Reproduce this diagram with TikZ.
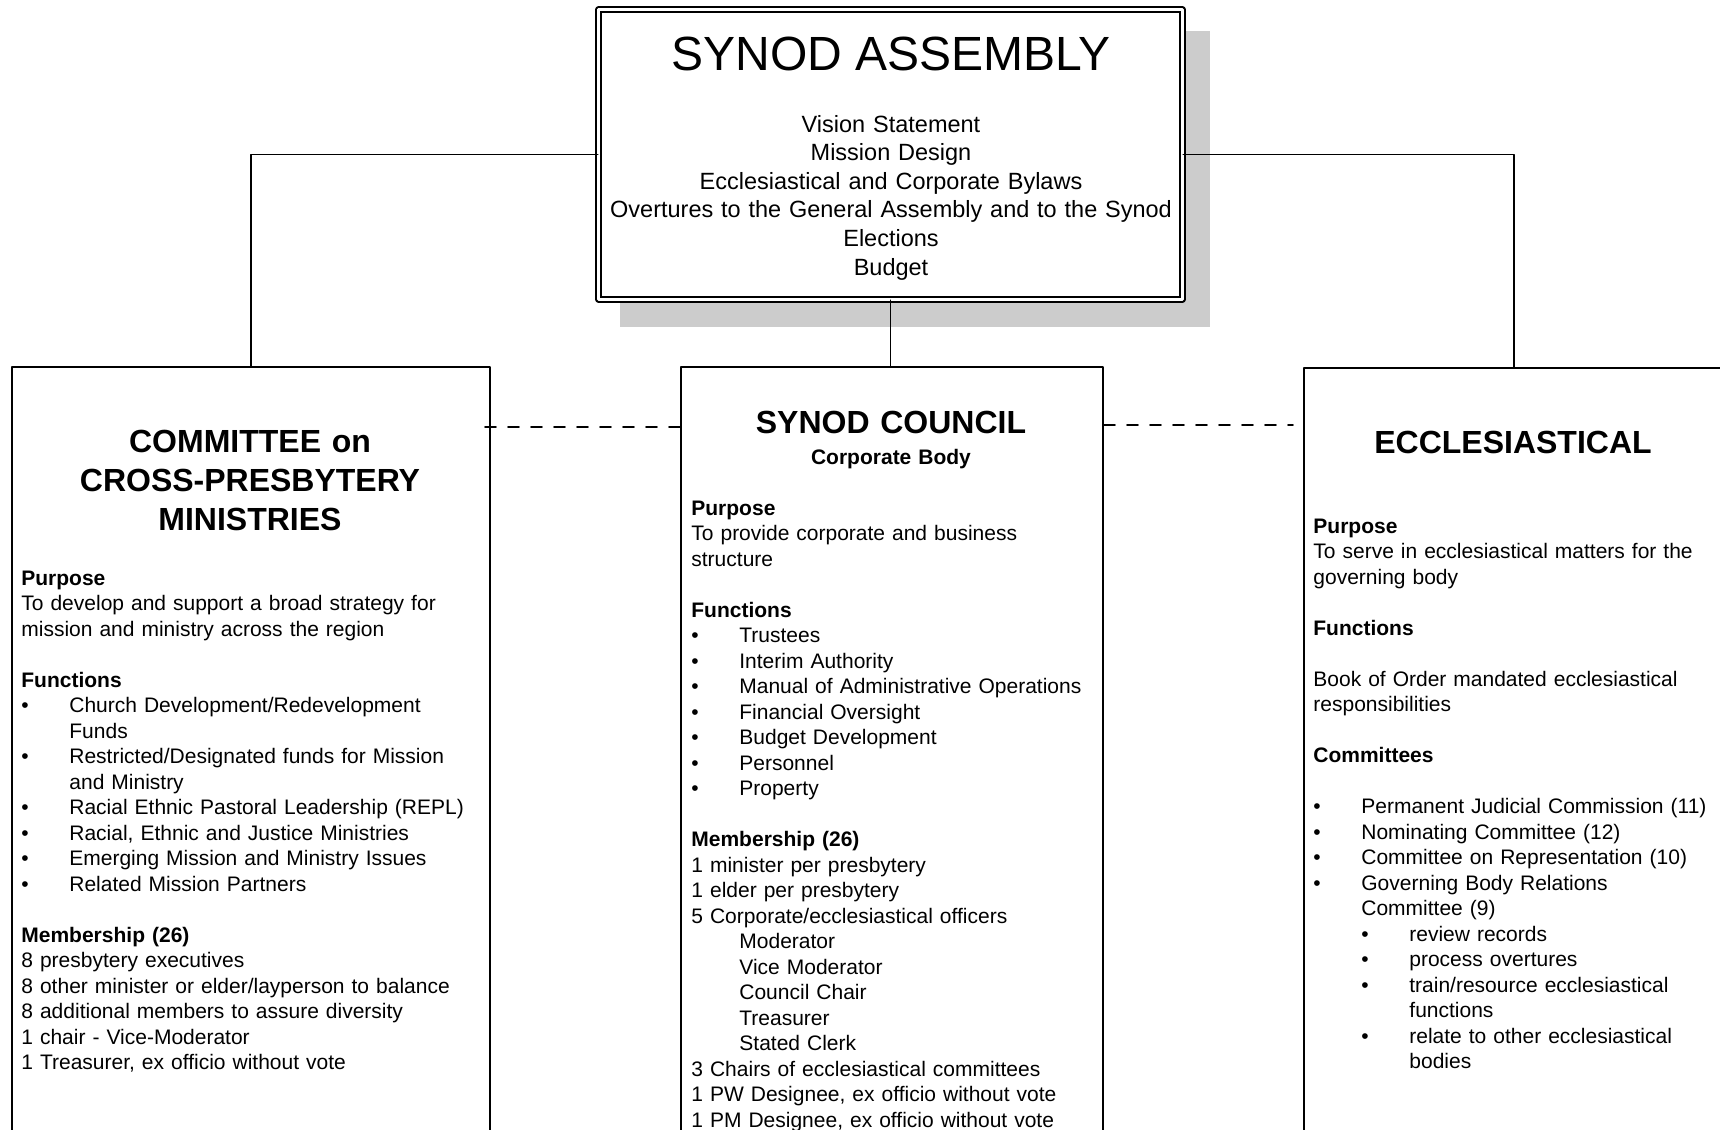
\documentclass[tikz,border=0pt]{standalone}
\usepackage{fontspec}
\setmainfont{Liberation Sans}
\usetikzlibrary{calc}
\newcommand\bul{\makebox[24pt][l]{\textbullet}}
\newcommand\ind{\hspace*{24pt}}

\begin{document}
\begin{tikzpicture}[line cap=round,line join=round,x=0.5pt,y=-0.5pt,
    unit/.style={draw,line width=1pt,inner sep=0pt,anchor=north west},
    body/.style={anchor=base west,inner sep=0pt,text width=250pt,align=left,font=\fontsize{10.5}{12.75}\selectfont},
    head/.style={anchor=base,inner sep=0pt,text width=250pt,align=center,font=\fontsize{16}{19.5}\selectfont\bfseries},
    link/.style={line width=0.8pt},
    dashlink/.style={line width=0.9pt,dash pattern=on 5.5pt off 6pt}]
    \useasboundingbox (0,0) rectangle (1720,1130);
    \clip (0,0) rectangle (1720,1130);
    % assembly with its shadow
    \fill [black!20] (620,31) rectangle (1210,327);
    \node [draw,double,line width=0.75pt,double distance=1.75pt,fill=white,minimum width=292pt,minimum height=145pt,inner sep=0pt] (asm) at (890.5,154.5) {};
    \node [anchor=base,inner sep=0pt,font=\fontsize{24}{28}\selectfont] (asmtitle) at (891,70) {SYNOD ASSEMBLY};
    \node [anchor=base,inner sep=0pt,text width=290pt,align=center,font=\fontsize{11.75}{14.3}\selectfont] (asmlist) at (891,132) {Vision Statement\\Mission Design\\Ecclesiastical and Corporate Bylaws\\Overtures to the General Assembly and to the Synod\\Elections\\Budget};
    % the three bodies
    \node [unit,minimum width=239pt,minimum height=400pt] (cpm) at (11,366) {};
    \node [unit,minimum width=211pt,minimum height=400pt] (council) at (680,366) {};
    \node [unit,minimum width=210pt,minimum height=400pt] (eccl) at (1303,367) {};
    \draw [link] (asm.west) -| (cpm.north);
    \draw [link] (asm.east) -| (eccl.north);
    \draw [link] (asm.south) -- (asm.south |- council.north);
    \coordinate (dl) at (0,427);
    \coordinate (dr) at (0,425);
    \draw [dashlink] ([xshift=-3pt]cpm.east |- dl) -- (council.west |- dl);
    \draw [dashlink] (council.east |- dr) -- ([xshift=-5pt]eccl.west |- dr);
    % committee on cross-presbytery ministries
    \node [head] (cpmtitle) at (250,452) {COMMITTEE on\\CROSS-PRESBYTERY\\MINISTRIES};
    \node [body] (cpmtext) at (21,585) {\textbf{Purpose}\\
        To develop and support a broad strategy for\\
        mission and ministry across the region\\[12.75pt]
        \textbf{Functions}\\
        \bul Church Development/Redevelopment\\
        \ind Funds\\
        \bul Restricted/Designated funds for Mission\\
        \ind and Ministry\\
        \bul Racial Ethnic Pastoral Leadership (REPL)\\
        \bul Racial, Ethnic and Justice Ministries\\
        \bul Emerging Mission and Ministry Issues\\
        \bul Related Mission Partners\\[12.75pt]
        \textbf{Membership (26)}\\
        8 presbytery executives\\
        8 other minister or elder/layperson to balance\\
        8 additional members to assure diversity\\
        1 chair - Vice-Moderator\\
        1 Treasurer, ex officio without vote};
    % synod council
    \node [head] (counciltitle) at (891,433) {SYNOD COUNCIL};
    \node [head,font=\fontsize{10.5}{12.75}\selectfont\bfseries] (councilsub) at (891,464) {Corporate Body};
    \node [body] (counciltext) at (691,515) {\textbf{Purpose}\\
        To provide corporate and business\\
        structure\\[12.75pt]
        \textbf{Functions}\\
        \bul Trustees\\
        \bul Interim Authority\\
        \bul Manual of Administrative Operations\\
        \bul Financial Oversight\\
        \bul Budget Development\\
        \bul Personnel\\
        \bul Property\\[12.75pt]
        \textbf{Membership (26)}\\
        1 minister per presbytery\\
        1 elder per presbytery\\
        5 Corporate/ecclesiastical officers\\
        \ind Moderator\\
        \ind Vice Moderator\\
        \ind Council Chair\\
        \ind Treasurer\\
        \ind Stated Clerk\\
        3 Chairs of ecclesiastical committees\\
        1 PW Designee, ex officio without vote\\
        1 PM Designee, ex officio without vote};
    % ecclesiastical
    \node [head] (eccltitle) at (1513,453) {ECCLESIASTICAL};
    \node [body] (eccltext) at (1313,533) {\textbf{Purpose}\\
        To serve in ecclesiastical matters for the\\
        governing body\\[12.75pt]
        \textbf{Functions}\\[12.75pt]
        Book of Order mandated ecclesiastical\\
        responsibilities\\[12.75pt]
        \textbf{Committees}\\[12.75pt]
        \bul Permanent Judicial Commission (11)\\
        \bul Nominating Committee (12)\\
        \bul Committee on Representation (10)\\
        \bul Governing Body Relations\\
        \ind Committee (9)\\
        \ind\bul review records\\
        \ind\bul process overtures\\
        \ind\bul train/resource ecclesiastical\\
        \ind\ind functions\\
        \ind\bul relate to other ecclesiastical\\
        \ind\ind bodies};
\end{tikzpicture}
\end{document}
